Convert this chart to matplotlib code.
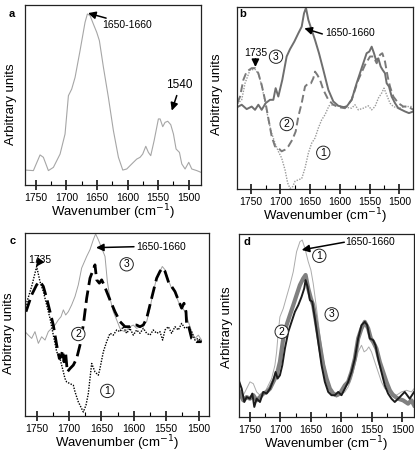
import matplotlib
matplotlib.use("Agg")
import matplotlib.pyplot as plt
from matplotlib.ticker import MultipleLocator

plt.rcParams['font.family'] = ['Liberation Sans', 'DejaVu Sans']

# ---- panel a: single spectrum ----
a_wn = [1767.4, 1753.8, 1742.9, 1737.5, 1729.3, 1721.1, 1710.2, 1702.1, 1696.6, 1691.2,
        1685.7, 1677.6, 1669.4, 1665.6, 1661.2, 1655.8, 1650.3, 1646.0, 1639.4, 1631.3,
        1623.1, 1614.9, 1607.8, 1601.3, 1593.1, 1585.0, 1579.5, 1575.2, 1570.2, 1565.9,
        1562.1, 1556.6, 1549.6, 1546.8, 1542.5, 1538.7, 1534.3, 1529.4, 1525.0, 1520.7,
        1515.2, 1511.4, 1506.0, 1500.0, 1495.1, 1486.9, 1479.8]
a_val = [8.3, 8.0, 16.7, 15.4, 8.0, 9.8, 17.2, 28.3, 49.6, 53.3,
         59.8, 74.6, 90.4, 95.0, 94.1, 89.4, 84.8, 80.2, 65.4, 48.7,
         30.2, 15.4, 8.3, 8.9, 11.7, 14.4, 15.4, 17.2, 21.5, 18.1,
         16.3, 24.6, 36.7, 36.7, 32.4, 34.8, 35.4, 33.5, 28.3, 20.0,
         18.1, 11.7, 8.9, 12.6, 8.9, 8.0, 7.0]

# ---- panel b ----
b3_wn = [1772.4, 1765.1, 1756.7, 1748.3, 1742.7, 1737.1, 1731.5, 1724.8, 1717.5, 1711.9,
         1708.0, 1703.5, 1696.8, 1689.5, 1683.9, 1676.6, 1669.8, 1664.2, 1660.3, 1657.0,
         1653.0, 1647.4, 1641.8, 1635.1, 1627.8, 1619.4, 1611.0, 1602.6, 1594.2, 1588.6,
         1580.2, 1571.8, 1563.4, 1555.0, 1550.5, 1546.5, 1542.6, 1539.3, 1535.3, 1531.4,
         1528.0, 1524.1, 1521.3, 1517.4, 1512.9, 1507.3, 1501.7, 1496.1, 1490.5, 1483.8,
         1476.5]
b3_val = [45.0, 46.3, 43.9, 45.3, 43.5, 46.3, 43.5, 47.2, 49.0, 49.0,
          55.4, 50.8, 60.0, 72.8, 76.8, 81.0, 85.6, 89.2, 96.5, 99.5,
          92.9, 87.4, 81.9, 74.6, 65.4, 54.5, 48.1, 45.7, 45.0, 45.3,
          49.0, 58.1, 66.4, 74.6, 75.5, 78.2, 74.6, 70.9, 71.8, 67.3,
          65.4, 63.6, 58.1, 56.3, 50.8, 47.2, 44.4, 43.5, 42.6, 41.7,
          42.6]
b2_wn = [1772.4, 1767.9, 1762.3, 1756.7, 1748.3, 1742.7, 1737.1, 1731.5, 1725.9, 1720.3,
         1714.7, 1709.1, 1703.5, 1697.9, 1692.3, 1686.7, 1679.9, 1674.3, 1669.8, 1664.2,
         1658.6, 1653.0, 1648.6, 1644.6, 1641.8, 1637.9, 1633.4, 1627.8, 1619.4, 1611.0,
         1602.6, 1591.4, 1580.2, 1569.0, 1557.7, 1549.3, 1543.7, 1538.1, 1532.5, 1528.6,
         1524.1, 1519.6, 1515.7, 1510.1, 1501.7, 1493.3, 1484.9, 1476.5]
b2_val = [47.2, 50.8, 60.0, 64.5, 66.4, 66.4, 63.6, 57.2, 49.0, 38.9,
          28.9, 23.4, 22.5, 20.7, 21.6, 23.4, 27.1, 31.6, 39.9, 47.2,
          56.3, 58.1, 58.1, 60.9, 64.5, 62.7, 60.0, 54.5, 49.0, 46.3,
          45.0, 44.4, 49.0, 60.0, 68.2, 72.8, 72.8, 69.1, 73.7, 74.6,
          70.0, 61.8, 56.3, 50.8, 47.2, 45.3, 45.3, 43.5]
b1_wn = [1772.4, 1765.1, 1759.5, 1751.1, 1742.7, 1737.1, 1731.5, 1725.9, 1720.3, 1714.7,
         1709.1, 1703.5, 1697.9, 1692.3, 1687.8, 1683.9, 1679.9, 1675.5, 1669.8, 1664.2,
         1658.6, 1653.0, 1647.4, 1641.8, 1636.2, 1630.6, 1625.0, 1618.3, 1611.0, 1602.6,
         1591.4, 1580.2, 1574.6, 1569.0, 1560.6, 1552.1, 1546.5, 1540.9, 1535.3, 1529.7,
         1525.8, 1521.3, 1515.7, 1510.1, 1501.7, 1490.5, 1476.5]
b1_val = [46.8, 49.0, 58.1, 65.4, 65.8, 63.3, 56.7, 48.1, 38.0, 30.7,
          25.2, 20.7, 17.0, 10.6, 3.3, 0.4, 0.9, 4.2, 5.1, 5.7,
          11.5, 19.7, 25.2, 28.0, 33.5, 38.0, 40.8, 45.7, 46.3, 45.7,
          45.0, 44.4, 46.3, 43.5, 44.4, 45.7, 43.5, 45.3, 49.9, 52.7,
          55.4, 51.7, 47.2, 45.3, 44.4, 45.3, 45.3]

# ---- panel c ----
c3_wn = [1768.0, 1762.9, 1757.7, 1752.6, 1747.4, 1742.3, 1737.1, 1732.0, 1726.9, 1721.7,
         1716.6, 1712.4, 1708.8, 1705.2, 1701.1, 1696.0, 1690.8, 1685.7, 1680.6, 1672.8,
         1667.7, 1662.6, 1659.0, 1654.8, 1649.7, 1644.5, 1640.9, 1636.8, 1631.7, 1626.5,
         1620.4, 1613.7, 1606.0, 1600.8, 1595.7, 1590.5, 1585.4, 1580.2, 1575.1, 1570.0,
         1564.8, 1559.7, 1556.1, 1551.9, 1546.8, 1541.7, 1536.5, 1531.4, 1526.2, 1521.1,
         1515.9, 1510.8, 1505.7, 1500.5, 1495.4]
c3_val = [46.1, 44.2, 42.4, 46.1, 39.7, 43.3, 41.5, 46.1, 47.9, 49.7,
          52.5, 54.3, 58.0, 55.2, 57.0, 60.7, 65.3, 71.7, 80.8, 87.2,
          90.9, 96.3, 99.5, 96.3, 91.8, 87.2, 73.5, 64.4, 57.0, 52.5,
          47.0, 46.1, 48.8, 49.7, 47.9, 48.8, 49.7, 51.6, 58.9, 68.0,
          75.3, 79.0, 81.7, 79.9, 74.4, 69.8, 68.0, 62.5, 59.8, 57.0,
          51.6, 46.1, 42.4, 44.2, 41.5]
c2_wn = [1766.5, 1757.7, 1750.0, 1744.9, 1739.7, 1734.6, 1729.4, 1724.3, 1719.1, 1715.0,
         1712.4, 1709.9, 1707.8, 1705.2, 1702.7, 1698.6, 1693.4, 1688.3, 1683.1, 1678.0,
         1672.8, 1667.7, 1660.0, 1657.4, 1653.3, 1649.7, 1646.1, 1642.0, 1636.8, 1629.1,
         1621.4, 1613.7, 1606.0, 1600.8, 1595.7, 1590.5, 1585.4, 1580.2, 1575.1, 1570.0,
         1564.8, 1559.7, 1556.1, 1551.9, 1546.8, 1541.7, 1536.5, 1531.4, 1526.2, 1522.6,
         1519.5, 1518.5, 1515.9, 1510.8, 1503.1, 1495.4]
c2_val = [57.0, 66.2, 71.7, 73.5, 70.8, 64.4, 57.0, 49.7, 38.8, 31.4,
          32.4, 36.0, 29.6, 34.2, 24.1, 25.9, 27.8, 31.4, 38.8, 49.7,
          64.4, 75.3, 82.6, 74.4, 72.6, 74.4, 71.7, 68.0, 63.4, 57.0,
          51.6, 48.8, 48.8, 49.7, 49.7, 48.8, 49.7, 53.4, 60.7, 68.0,
          75.3, 79.0, 80.8, 79.0, 73.5, 70.8, 68.0, 63.4, 58.9, 61.6,
          57.0, 49.7, 49.7, 42.4, 40.6, 40.6]
c1_wn = [1766.5, 1757.7, 1750.0, 1744.9, 1739.7, 1734.6, 1729.4, 1724.3, 1719.1, 1714.0,
         1711.4, 1706.3, 1703.7, 1698.6, 1693.4, 1690.8, 1685.7, 1678.0, 1673.9, 1670.3,
         1665.1, 1660.0, 1654.8, 1652.3, 1647.1, 1642.0, 1636.8, 1631.7, 1626.5, 1621.4,
         1616.3, 1611.1, 1606.0, 1600.8, 1595.7, 1590.5, 1585.4, 1580.2, 1575.1, 1570.0,
         1564.8, 1559.7, 1555.6, 1551.9, 1546.8, 1541.7, 1536.5, 1531.4, 1526.2, 1521.1,
         1515.9, 1510.8, 1505.7, 1500.5, 1495.4]
c1_val = [60.7, 70.8, 81.7, 73.5, 68.0, 60.7, 53.4, 44.2, 35.1, 31.4,
          27.8, 20.5, 18.6, 17.7, 16.8, 13.2, 7.7, 2.2, 5.9, 12.2,
          28.7, 24.1, 22.3, 25.9, 35.1, 40.6, 45.2, 44.2, 47.0, 46.1,
          48.8, 45.2, 47.9, 44.2, 47.0, 45.2, 47.9, 45.2, 44.2, 47.0,
          45.2, 46.1, 41.5, 47.0, 48.8, 45.2, 48.8, 47.0, 50.6, 47.9,
          48.8, 46.1, 41.5, 42.4, 40.6]

# ---- panel d ----
d1_wn = [1767.5, 1760.9, 1755.5, 1750.0, 1744.5, 1739.1, 1733.6, 1725.4, 1720.0, 1714.5,
         1709.1, 1706.3, 1703.6, 1700.9, 1695.4, 1690.0, 1684.5, 1679.0, 1673.6, 1668.1,
         1664.3, 1659.9, 1654.5, 1650.1, 1646.3, 1640.8, 1635.4, 1629.9, 1624.4, 1619.0,
         1613.5, 1608.1, 1602.6, 1594.4, 1589.0, 1583.5, 1578.0, 1572.6, 1567.1, 1562.8,
         1558.9, 1555.1, 1550.7, 1545.3, 1539.8, 1534.4, 1528.9, 1523.5, 1518.0, 1509.8,
         1501.6, 1493.4, 1485.2, 1480.9]
d1_val = [13.7, 11.9, 15.5, 19.2, 18.2, 13.7, 11.9, 13.7, 17.3, 21.0,
          28.3, 35.6, 46.5, 54.7, 59.3, 65.7, 72.1, 79.4, 90.3, 95.8,
          96.7, 92.2, 84.9, 80.3, 73.0, 59.3, 44.7, 31.9, 22.8, 15.5,
          11.9, 10.9, 11.9, 13.7, 16.4, 21.0, 28.3, 35.6, 39.2, 35.6,
          36.5, 38.3, 35.6, 30.1, 24.6, 19.2, 15.5, 14.6, 13.7, 11.9,
          13.7, 14.6, 13.7, 15.5]
d2_wn = [1767.5, 1760.9, 1755.5, 1750.0, 1744.5, 1739.1, 1733.6, 1728.2, 1722.7, 1717.2,
         1711.8, 1706.3, 1700.9, 1695.4, 1690.0, 1684.5, 1679.0, 1673.6, 1668.1, 1662.7,
         1658.8, 1654.5, 1650.1, 1646.3, 1640.8, 1635.4, 1629.9, 1624.4, 1619.0, 1613.5,
         1608.1, 1602.6, 1594.4, 1589.0, 1583.5, 1578.0, 1572.6, 1567.1, 1561.7, 1556.2,
         1551.8, 1548.0, 1542.6, 1537.1, 1531.6, 1526.2, 1520.7, 1515.3, 1507.1, 1498.9,
         1490.7, 1485.2, 1480.9]
d2_val = [13.7, 9.1, 10.9, 10.0, 11.9, 9.1, 10.9, 12.8, 13.7, 15.5,
          19.2, 22.8, 30.1, 42.9, 50.2, 55.7, 61.1, 66.6, 72.1, 75.7,
          77.6, 70.3, 64.8, 61.1, 50.2, 39.2, 28.3, 21.0, 15.5, 12.8,
          11.9, 12.8, 17.3, 19.2, 24.6, 31.9, 42.9, 48.4, 52.0, 48.4,
          42.9, 41.1, 37.4, 30.1, 24.6, 19.2, 14.6, 11.9, 10.0, 9.1,
          7.3, 9.1, 6.4]
d3_wn = [1767.5, 1763.6, 1759.3, 1755.5, 1750.0, 1746.2, 1742.9, 1739.1, 1733.6, 1728.2,
         1722.7, 1717.2, 1711.8, 1708.0, 1704.7, 1700.9, 1697.0, 1692.7, 1687.2, 1681.8,
         1676.3, 1670.8, 1665.4, 1661.0, 1658.8, 1655.6, 1651.7, 1647.9, 1643.5, 1638.1,
         1632.6, 1627.2, 1621.7, 1616.3, 1610.8, 1605.3, 1599.9, 1594.4, 1589.0, 1583.5,
         1578.0, 1572.6, 1567.1, 1561.7, 1557.8, 1553.5, 1548.0, 1544.2, 1539.8, 1534.4,
         1528.9, 1523.5, 1518.0, 1512.5, 1504.3, 1496.2, 1488.0, 1480.9]
d3_val = [19.2, 15.5, 8.2, 10.9, 10.0, 12.8, 5.5, 10.0, 8.2, 13.7,
          12.8, 15.5, 20.1, 24.6, 21.0, 22.8, 28.3, 37.4, 46.5, 52.0,
          57.5, 61.1, 65.7, 70.3, 74.8, 71.2, 63.9, 63.0, 53.8, 41.1,
          28.3, 19.2, 13.7, 11.9, 11.9, 13.7, 11.9, 15.5, 19.2, 24.6,
          31.9, 42.9, 50.2, 52.0, 50.2, 42.9, 42.0, 39.2, 31.9, 24.6,
          17.3, 12.8, 10.0, 8.2, 10.9, 13.7, 10.0, 13.7]

tick_values = [1750, 1700, 1650, 1600, 1550, 1500]
x_label = 'Wavenumber (cm$^{-1}$)'
y_label = 'Arbitrary units'

W, H = 415, 453
fig = plt.figure(figsize=(W / 100, H / 100), dpi=100)


def make_axes(left, top, right, bottom, xlim):
    # pixel box -> figure fraction
    ax = fig.add_axes([left / W, 1 - bottom / H, (right - left) / W, (bottom - top) / H])
    ax.set_xlim(*xlim)
    ax.set_ylim(0, 100)
    ax.set_yticks([])
    ax.set_xticks(tick_values)
    ax.xaxis.set_minor_locator(MultipleLocator(25))
    ax.tick_params(axis='x', which='major', direction='inout', length=7, width=1.1,
                   labelsize=7.5, pad=2)
    ax.tick_params(axis='x', which='minor', direction='in', length=3, width=0.8)
    for sp in ax.spines.values():
        sp.set_linewidth(0.9)
        sp.set_color('#222222')
    ax.set_xlabel(x_label, fontsize=9.5, labelpad=0)
    ax.set_ylabel(y_label, fontsize=9.5)
    return ax


def circled(ax, x, y, s):
    ax.text(x, y, s, ha='center', va='center', fontsize=7.5, zorder=5,
            bbox=dict(boxstyle='circle,pad=0.16', fc='white', ec='#222222', lw=0.7))


def arrow(ax, tail, tip):
    ax.annotate('', xy=tip, xytext=tail,
                arrowprops=dict(arrowstyle='-|>,head_length=0.45,head_width=0.22',
                                color='black', lw=1.1, shrinkA=0, shrinkB=0))


# panel a
ax = make_axes(25, 5, 201, 185, (1767.5, 1480))
ax.plot(a_wn, a_val, color='#a6a6a6', lw=0.8)
ax.text(1600.8, 89.1, '1650-1660', fontsize=7.5, ha='center', va='center')
arrow(ax, (1635, 92.7), (1664.6, 95.5))
ax.text(1514.7, 55.3, '1540', fontsize=8.5, ha='center', va='center')
arrow(ax, (1519.6, 49.7), (1527.8, 41.3))
ax.yaxis.set_label_coords(-0.045, 0.45)
fig.text(12 / W, 1 - 14 / H, 'a', fontsize=8, fontweight='bold', ha='center', va='center')

# panel b
ax = make_axes(237, 7, 413, 189, (1773, 1477))
ax.plot(b1_wn, b1_val, color='#9a9a9a', lw=1.0, ls=(0, (1, 1)))
ax.plot(b2_wn, b2_val, color='#7a7a7a', lw=1.4, ls=(0, (4, 2)))
ax.plot(b3_wn, b3_val, color='#6e6e6e', lw=1.4)
ax.text(1741.4, 74.5, '1735', fontsize=7.5, ha='center', va='center')
arrow(ax, (1742, 71.5), (1742, 67))
circled(ax, 1707.4, 72.7, '3')
ax.text(1582.1, 85.5, '1650-1660', fontsize=7.5, ha='center', va='center')
arrow(ax, (1629.5, 85.2), (1659.8, 88.3))
circled(ax, 1689.4, 35.7, '2')
circled(ax, 1627.9, 19.9, '1')
ax.yaxis.set_label_coords(-0.08, 0.52)
fig.text(243 / W, 1 - 14 / H, 'b', fontsize=8, fontweight='bold', ha='center', va='center')

# panel c
ax = make_axes(25, 233, 209, 416, (1768, 1484))
ax.plot(c3_wn, c3_val, color='#a0a0a0', lw=0.7)
ax.plot(c1_wn, c1_val, color='black', lw=1.0, ls=(0, (1, 1)))
ax.plot(c2_wn, c2_val, color='black', lw=2.0, ls=(0, (4.5, 2)))
ax.text(1744.9, 85.2, '1735', fontsize=7.5, ha='center', va='center')
arrow(ax, (1746, 84), (1751, 81.5))
ax.text(1558.4, 92.5, '1650-1660', fontsize=7.5, ha='center', va='center')
arrow(ax, (1599.8, 92.5), (1658.4, 92.0))
circled(ax, 1611.1, 82.9, '3')
circled(ax, 1685.7, 44.8, '2')
circled(ax, 1641.0, 13.7, '1')
ax.yaxis.set_label_coords(-0.054, 0.45)
fig.text(13 / W, 1 - 241 / H, 'c', fontsize=8, fontweight='bold', ha='center', va='center')

# panel d
ax = make_axes(239, 234, 414, 417, (1768, 1481))
ax.plot(d1_wn, d1_val, color='#ababab', lw=0.7)
ax.plot(d2_wn, d2_val, color='#808080', lw=3.0)
ax.plot(d3_wn, d3_val, color='#1c1c1c', lw=1.4)
ax.text(1553.2, 95.8, '1650-1660', fontsize=7.5, ha='center', va='center')
arrow(ax, (1595.3, 95.5), (1665.2, 91.3))
circled(ax, 1636.3, 88.1, '1')
circled(ax, 1616.0, 56.1, '3')
circled(ax, 1698.0, 46.6, '2')
ax.yaxis.set_label_coords(-0.034, 0.49)
fig.text(247 / W, 1 - 242 / H, 'd', fontsize=8, fontweight='bold', ha='center', va='center')

fig.savefig('out.png', dpi=100)
